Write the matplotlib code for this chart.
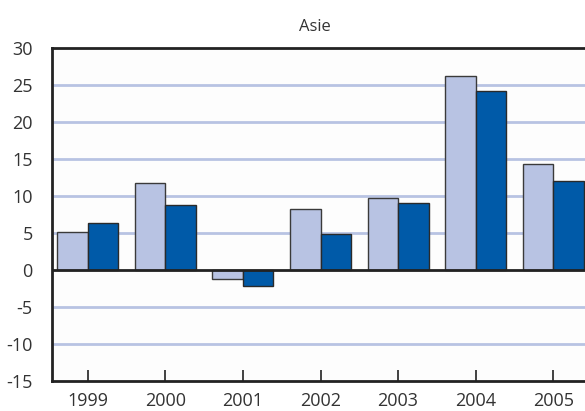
import matplotlib
matplotlib.use("Agg")
import matplotlib.pyplot as plt
import numpy as np

years = ["1999", "2000", "2001", "2002", "2003", "2004", "2005"]
series_a = [5.2, 11.7, -1.2, 8.2, 9.7, 26.2, 14.35]
series_b = [6.4, 8.75, -2.1, 4.8, 9.05, 24.2, 12.0]
yticks = [-15, -10, -5, 0, 5, 10, 15, 20, 25, 30]

plt.rcParams['font.family'] = ['Open Sans', 'DejaVu Sans']

fig = plt.figure(figsize=(5.85, 4.11), dpi=100)
fig.patch.set_facecolor('white')
W, H = 585, 411
left, right, top, bottom = 52.3, 588.7, 48, 381
ax = fig.add_axes([left / W, 1 - bottom / H, (right - left) / W, (bottom - top) / H])
ax.set_facecolor('#fdfdfd')

x = np.arange(len(years))
w = 0.393
light = '#b8c3e3'
dark = '#005aa8'
ax.bar(x - w / 2, series_a, width=w, color=light, edgecolor='#3a3a3a', linewidth=1.0, zorder=3)
ax.bar(x + w / 2, series_b, width=w, color=dark, edgecolor='#2a2a2a', linewidth=1.0, zorder=3)

ax.set_xlim(-0.456, len(years) - 1 + 0.456)
ax.set_ylim(-15, 30)
ax.set_yticks(yticks)
ax.set_yticklabels([str(v) for v in yticks])
for v in yticks:
    if v not in (-15, 0, 30):
        ax.axhline(v, color='#b8c3e3', linewidth=2.0, zorder=1)
ax.axhline(0, color='#222222', linewidth=2.0, zorder=4)

ax.set_xticks(x)
ax.set_xticklabels(years)
ax.tick_params(axis='x', direction='in', length=8, width=1.2, color='#222222',
               labelsize=13, labelcolor='#333333', pad=8)
ax.tick_params(axis='y', length=0, labelsize=13, labelcolor='#333333', pad=14)

for s in ['left', 'bottom', 'top']:
    ax.spines[s].set_linewidth(2.0)
    ax.spines[s].set_color('#222222')
ax.spines['right'].set_visible(False)

ax.set_title("Asie", fontsize=12, color='#333333', pad=12, x=0.49)

fig.savefig("out.png", dpi=100)
